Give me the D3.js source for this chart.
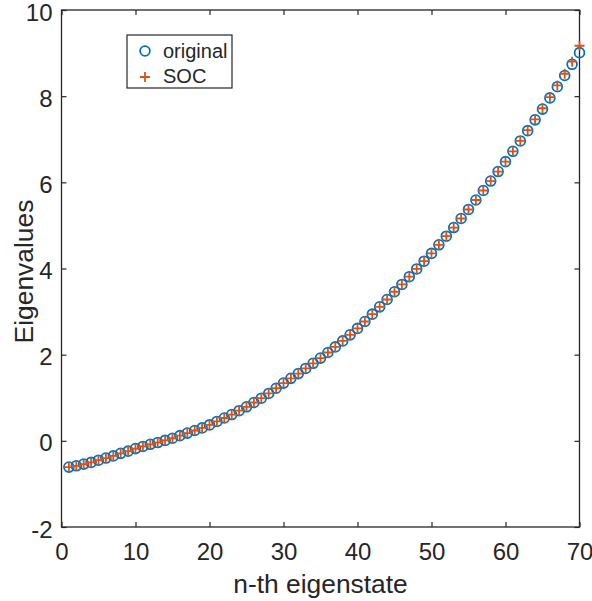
<!DOCTYPE html>
<html>
<head>
<meta charset="utf-8">
<script src="https://cdn.jsdelivr.net/npm/d3@7"></script>
<style>
  body { margin: 0; background: #fff; }
  svg text { font-family: "Liberation Sans", Arial, Helvetica, sans-serif; fill: #262626; }
</style>
</head>
<body>
<div id="chart-area"></div>
<script>
// eigenvalues, state n = 1..70
const original = [
  -0.61, -0.58, -0.54, -0.50, -0.45, -0.40, -0.35, -0.29, -0.24, -0.18,
  -0.13, -0.08, -0.04,  0.01,  0.06,  0.12,  0.18,  0.24,  0.30,  0.37,
   0.45,  0.53,  0.61,  0.70,  0.79,  0.89,  0.99,  1.10,  1.22,  1.34,
   1.45,  1.56,  1.68,  1.80,  1.92,  2.05,  2.18,  2.32,  2.46,  2.61,
   2.77,  2.94,  3.11,  3.28,  3.46,  3.63,  3.81,  3.99,  4.17,  4.35,
   4.55,  4.75,  4.95,  5.16,  5.37,  5.59,  5.81,  6.03,  6.25,  6.48,
   6.72,  6.96,  7.20,  7.45,  7.70,  7.96,  8.22,  8.48,  8.74,  9.01
]
const soc = [
  -0.61, -0.58, -0.54, -0.50, -0.45, -0.40, -0.35, -0.29, -0.24, -0.18,
  -0.13, -0.08, -0.04,  0.01,  0.06,  0.12,  0.18,  0.24,  0.30,  0.37,
   0.45,  0.53,  0.61,  0.70,  0.79,  0.89,  0.99,  1.10,  1.22,  1.34,
   1.45,  1.56,  1.68,  1.80,  1.92,  2.05,  2.18,  2.32,  2.46,  2.61,
   2.77,  2.94,  3.11,  3.28,  3.46,  3.63,  3.81,  3.99,  4.17,  4.35,
   4.55,  4.75,  4.95,  5.16,  5.37,  5.59,  5.81,  6.03,  6.25,  6.48,
   6.72,  6.96,  7.21,  7.46,  7.72,  7.98,  8.25,  8.52,  8.80,  9.17
]
const xTicks = [0, 10, 20, 30, 40, 50, 60, 70]
const yTicks = [-2, 0, 2, 4, 6, 8, 10]
const seriesNames = ["original", "SOC"]

const blue = "#0072BD", orange = "#D95319", ink = "#262626"
const W = 592, H = 601
const plotL = 61.5, plotR = 579.5, plotT = 10, plotB = 527

let svg = d3.select("#chart-area").append("svg")
  .attr("width", W)
  .attr("height", H)

let x = d3.scaleLinear().domain([0, 70]).range([plotL, plotR])
let y = d3.scaleLinear().domain([-2, 10]).range([plotB, plotT])

// plain hyphen for negatives, like matlab
const fmt = d => String(d)

// ticks point inward on all four sides (matlab "box on")
let gx = svg.append("g").attr("transform", `translate(0,${plotB})`)
  .call(d3.axisBottom(x).tickValues(xTicks).tickFormat(fmt).tickSizeInner(-5).tickSizeOuter(0).tickPadding(16))
let gy = svg.append("g").attr("transform", `translate(${plotL},0)`)
  .call(d3.axisLeft(y).tickValues(yTicks).tickFormat(fmt).tickSizeInner(-5).tickSizeOuter(0).tickPadding(9))
svg.append("g").attr("transform", `translate(0,${plotT})`)
  .call(d3.axisTop(x).tickValues(xTicks).tickSizeInner(-5).tickSizeOuter(0).tickFormat(""))
svg.append("g").attr("transform", `translate(${plotR},0)`)
  .call(d3.axisRight(y).tickValues(yTicks).tickSizeInner(-5).tickSizeOuter(0).tickFormat(""))

svg.selectAll(".domain").remove()
svg.selectAll(".tick line").attr("stroke", ink).attr("stroke-width", 1.2)
svg.selectAll(".tick text").attr("font-size", 24).attr("fill", ink)
gx.selectAll(".tick text").attr("dy", "0.71em")
gy.selectAll(".tick text").attr("dy", "0.42em")

svg.append("rect")
  .attr("x", plotL).attr("y", plotT)
  .attr("width", plotR - plotL).attr("height", plotB - plotT)
  .attr("fill", "none").attr("stroke", ink).attr("stroke-width", 1.3)

// markers
svg.append("g").selectAll("circle")
  .data(original)
  .enter()
  .append("circle")
    .attr("cx", (d, i) => x(i + 1))
    .attr("cy", d => y(d))
    .attr("r", 4.9)
    .attr("fill", "none")
    .attr("stroke", blue)
    .attr("stroke-width", 1.8)

svg.append("g").selectAll("path")
  .data(soc)
  .enter()
  .append("path")
    .attr("transform", (d, i) => `translate(${x(i + 1)},${y(d)})`)
    .attr("d", "M-5,0H5M0,-5V5")
    .attr("fill", "none")
    .attr("stroke", orange)
    .attr("stroke-width", 1.8)

// axis labels
svg.append("text")
  .attr("x", (plotL + plotR) / 2)
  .attr("y", 593)
  .attr("text-anchor", "middle")
  .attr("font-size", 26.4)
  .text("n-th eigenstate")

svg.append("text")
  .attr("transform", `translate(33,${(plotT + plotB) / 2 + 3}) rotate(-90)`)
  .attr("text-anchor", "middle")
  .attr("font-size", 26.4)
  .text("Eigenvalues")

// legend
let legend = svg.append("g")
legend.append("rect")
  .attr("x", 127).attr("y", 35)
  .attr("width", 105).attr("height", 53)
  .attr("fill", "#fff").attr("stroke", ink).attr("stroke-width", 1.2)

legend.append("circle")
  .attr("cx", 145).attr("cy", 51).attr("r", 4.9)
  .attr("fill", "none").attr("stroke", blue).attr("stroke-width", 1.8)
legend.append("path")
  .attr("transform", "translate(145,77)")
  .attr("d", "M-5,0H5M0,-5V5")
  .attr("fill", "none").attr("stroke", orange).attr("stroke-width", 1.8)

legend.selectAll("text")
  .data(seriesNames)
  .enter()
  .append("text")
    .attr("x", 163)
    .attr("y", (d, i) => 58 + i * 25)
    .attr("font-size", 20)
    .text(d => d)
</script>
</body>
</html>
